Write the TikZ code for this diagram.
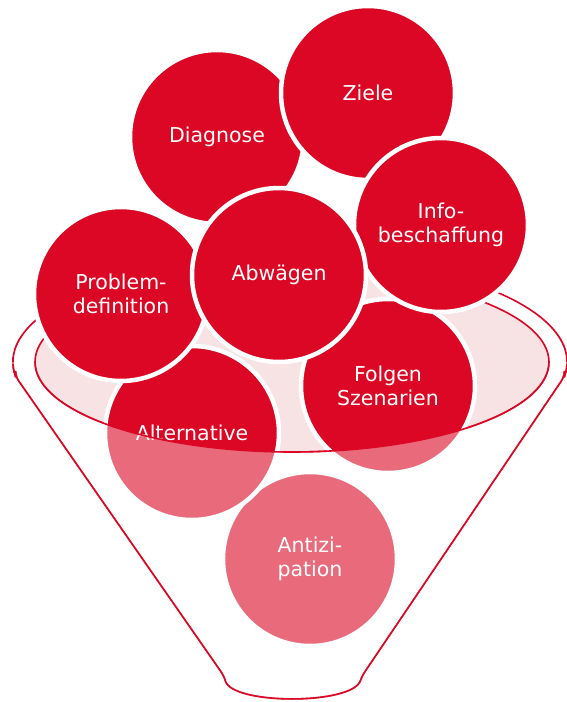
\documentclass[tikz,border=0pt]{standalone}
\usepackage{fontspec}
\setsansfont{DejaVu Sans}
\usetikzlibrary{positioning, calc}

\definecolor{bubred}{RGB}{219,7,36}
\definecolor{rimpink}{RGB}{247,226,228}

\tikzset{
	bubble/.style={circle, fill=bubred, draw=white, line width=4.5pt, minimum size=174pt,
		inner sep=0pt, align=center, text=white, font=\sffamily\fontsize{20.5}{24}\selectfont},
	rim/.style={draw=bubred, line width=1.6pt}
}
\newcommand{\funnelpath}{%
	plot[smooth, samples=80, domain=172:368] ({290+277*cos(\x)}, {362+105*sin(\x)})
	-- (362,676) .. controls (352,705) and (232,705) .. (224,676) -- cycle}

\begin{document}
\begin{tikzpicture}[x=1pt, y=-1pt]
	\useasboundingbox (0,0) rectangle (567,702);
	% ---- funnel: outer outline ----
	\draw[rim, line join=round, rounded corners=5pt] \funnelpath;
	% ---- funnel: inner rim ----
	\draw[rim, fill=rimpink] (292,362) ellipse[x radius=257, y radius=90];
	% ---- bubbles, back to front ----
	\foreach \n/\p/\t in {anti/{310,559}/{Antizi-\\pation}, alter/{192,433}/Alternative,
		folgen/{388,386}/{Folgen\\Szenarien}, diag/{217,137}/Diagnose, ziele/{368,93}/Ziele,
		prob/{121,294}/{Problem-\\definition}, info/{441,225}/{Info-\\beschaffung},
		abw/{279,275}/Abwägen}{
		\node[bubble] (\n) at (\p) {\t};
	}
	% ---- lower part sits inside the funnel ----
	\fill[white, opacity=0.4]
		plot[smooth, samples=60, domain=0:180] ({292+257*cos(\x)}, {362+90*sin(\x)})
		-- (0,362) -- (0,702) -- (567,702) -- (567,362) -- cycle;
	\draw[rim] plot[smooth, samples=60, domain=0:180] ({292+257*cos(\x)}, {362+90*sin(\x)});
	\begin{scope}
		\clip (0,364) rectangle (567,702);
		\draw[rim, line join=round, rounded corners=5pt] \funnelpath;
	\end{scope}
\end{tikzpicture}
\end{document}
